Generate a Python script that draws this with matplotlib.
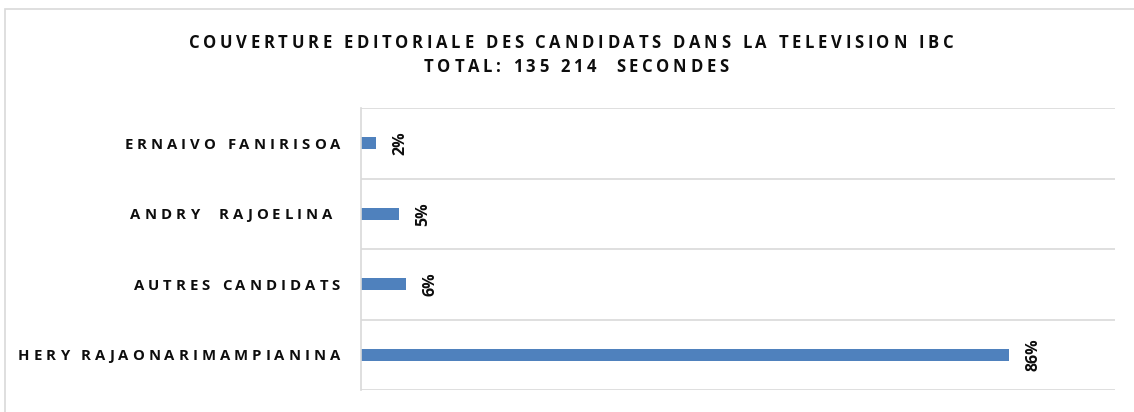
import matplotlib
matplotlib.use('Agg')
import matplotlib.pyplot as plt
from matplotlib.patches import Rectangle
from matplotlib.transforms import IdentityTransform

# --- data ---
candidates = ["HERY RAJAONARIMAMPIANINA", "AUTRES CANDIDATS", "ANDRY  RAJOELINA ", "ERNAIVO FANIRISOA"]
shares = [0.86, 0.06, 0.05, 0.02]
value_labels = ["86%", "6%", "5%", "2%"]
title_lines = ["COUVERTURE EDITORIALE DES CANDIDATS DANS LA TELEVISION IBC",
               "TOTAL: 135 214  SECONDES"]

plt.rcParams['font.family'] = ['Open Sans', 'DejaVu Sans']

bar_color = '#4F81BD'
grid_color = '#D9D9D9'
text_color = '#0d0d0d'

W, H = 1134, 412
fig = plt.figure(figsize=(W / 100, H / 100), dpi=100)
fig.patch.set_facecolor('white')
renderer = fig.canvas.get_renderer()

# chart frame
fig.patches.append(Rectangle((5 / W, -0.05), 1.2, 1 - 9 / H + 0.05,
                             transform=fig.transFigure, fill=False,
                             edgecolor=grid_color, linewidth=1.2))

ax = fig.add_axes([361 / W, 1 - 390 / H, (1115 - 361) / W, (390 - 108) / H])


def char_width(ch, **kw):
    # advance width of one character, measured between two bars
    t1 = fig.text(0, 0, '|' + ch + '|', **kw)
    t2 = fig.text(0, 0, '||', **kw)
    w = t1.get_window_extent(renderer).width - t2.get_window_extent(renderer).width
    t1.remove()
    t2.remove()
    return w


def tracked_text(x, y, s, ha='left', track=3.0, **kw):
    """Draw s with extra letter spacing; x, y in pixels (y = baseline)."""
    widths = [char_width(c, **kw) for c in s]
    total = sum(widths) + track * (len(s) - 1)
    if ha == 'right':
        x0 = x - total
    elif ha == 'center':
        x0 = x - total / 2
    else:
        x0 = x
    for c, w in zip(s, widths):
        if c != ' ':
            fig.text(x0, y, c, transform=IdentityTransform(),
                     ha='left', va='baseline', **kw)
        x0 += w + track


ypos = list(range(len(candidates)))
ax.barh(ypos, shares, height=0.17, color=bar_color)

for y, v, lbl in zip(ypos, shares, value_labels):
    ax.annotate(lbl, (v, y), xytext=(17.5, 0), textcoords='offset points',
                rotation=90, ha='center', va='center', fontsize=11.5,
                fontweight='bold', color=text_color)

ax.set_xlim(0, 1)
ax.set_ylim(-0.5, len(candidates) - 0.5)
ax.set_xticks([])
ax.set_yticks([])

ax.set_yticks([i - 0.5 for i in range(len(candidates) + 1)], minor=True)
ax.tick_params(axis='y', which='minor', length=0)
ax.grid(True, axis='y', which='minor', color=grid_color, linewidth=1.2)
ax.set_axisbelow(True)

for side in ['top', 'bottom', 'right']:
    ax.spines[side].set_visible(False)
ax.spines['left'].set_color(grid_color)
ax.spines['left'].set_linewidth(1.2)

# category labels, right aligned left of the axis
label_kw = dict(fontsize=10.7, fontweight='bold', color=text_color)
for y, name in zip(ypos, candidates):
    _, yc = ax.transData.transform((0, y))
    tracked_text(340, yc - 5.5, name, ha='right', track=4.0, **label_kw)

# title
title_kw = dict(fontsize=12, fontweight='bold', color=text_color)
tracked_text(571, H - 47.7, title_lines[0], ha='center', track=3.7, **title_kw)
tracked_text(576, H - 72.3, title_lines[1], ha='center', track=3.7, **title_kw)

fig.savefig('out.png', dpi=100, facecolor='white')
